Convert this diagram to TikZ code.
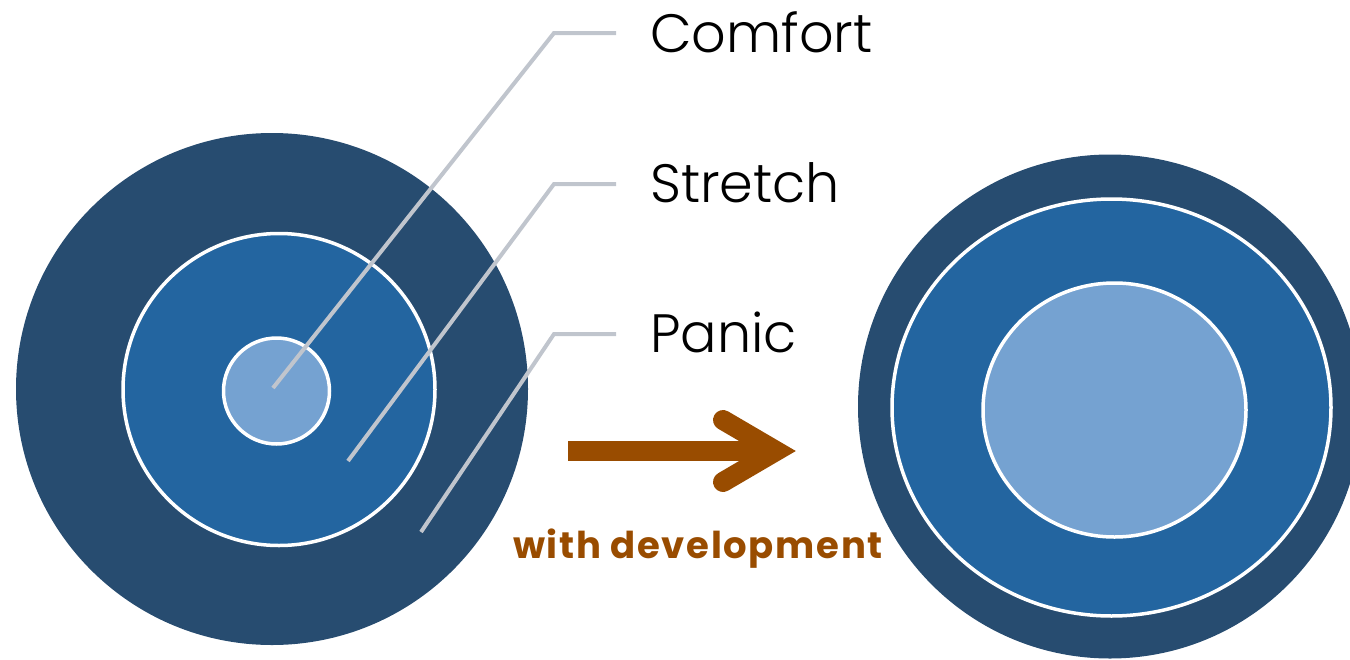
\documentclass[tikz,border=0pt]{standalone}
\usepackage{fontspec}
\setmainfont{Poppins}[UprightFont=* Light, BoldFont=* Bold]
\definecolor{navy}{RGB}{39,76,112}
\definecolor{midblue}{RGB}{35,101,160}
\definecolor{lightblue}{RGB}{117,162,209}
\definecolor{leader}{RGB}{192,197,205}
\definecolor{brown}{RGB}{153,76,0}
\tikzset{
  ring/.style={circle, inner sep=0pt, outer sep=0pt},
  oval/.style={ellipse, inner sep=0pt, outer sep=0pt},
  outerring/.style={fill=navy},
  midring/.style={fill=midblue, draw=white, line width=3.5pt},
  innerring/.style={fill=lightblue, draw=white, line width=3.5pt},
  leaderline/.style={draw=leader, line width=4pt},
  zonelabel/.style={anchor=base west, inner sep=0pt, font=\fontsize{54}{60}\selectfont, text=black},
  devlabel/.style={anchor=base west, inner sep=0pt, font=\bfseries\fontsize{37}{40}\selectfont\addfontfeature{LetterSpace=4.5}, text=brown},
}
\usetikzlibrary{shapes.geometric}
\begin{document}
\begin{tikzpicture}[x=1pt,y=-1pt]
\useasboundingbox (0,0) rectangle (1350,659);
\begin{scope}
\clip (0,0) rectangle (1350,659);
% left target
\node[ring, outerring, minimum size=512pt] (pout) at (272,389) {};
\node[ring, midring, minimum size=312pt] (pmid) at (279,389.5) {};
\node[ring, innerring, minimum size=106pt] (pin) at (276.5,391) {};
% right target
\node[ring, outerring, minimum size=504pt] (qout) at (1110,406.5) {};
\node[oval, midring, minimum width=439pt, minimum height=417pt] (qmid) at (1111.5,407.5) {};
\node[oval, innerring, minimum width=263pt, minimum height=254pt] (qin) at (1114.5,410) {};
\end{scope}
% labels
\node[zonelabel] (comfort) at (650,52) {Comfort};
\node[zonelabel] (stretch) at (650,202) {Stretch};
\node[zonelabel] (panic) at (650,352) {Panic};
% leader lines
\coordinate (cpt) at (273,388);
\coordinate (spt) at (348,461);
\coordinate (ppt) at (421,532);
\coordinate (cel) at (554,33);
\coordinate (sel) at (554,184);
\coordinate (pel) at (554,334);
\coordinate (cend) at (616,33);
\coordinate (send) at (616,184);
\coordinate (pend) at (616,334);
\draw[leaderline] (cpt) -- (cel) -- (cend);
\draw[leaderline] (spt) -- (sel) -- (send);
\draw[leaderline] (ppt) -- (pel) -- (pend);
% development arrow
\coordinate (ashaft) at (568,451);
\coordinate (avertex) at (776,451);
\coordinate (aup) at (723,420);
\coordinate (adown) at (723,482);
\draw[draw=brown, line width=20pt] (ashaft) -- (avertex);
\draw[draw=brown, line width=20pt, line cap=round, line join=miter] (aup) -- (avertex) -- (adown);
\node[devlabel] (dev) at (513,558) {with development};
\end{tikzpicture}
\end{document}
